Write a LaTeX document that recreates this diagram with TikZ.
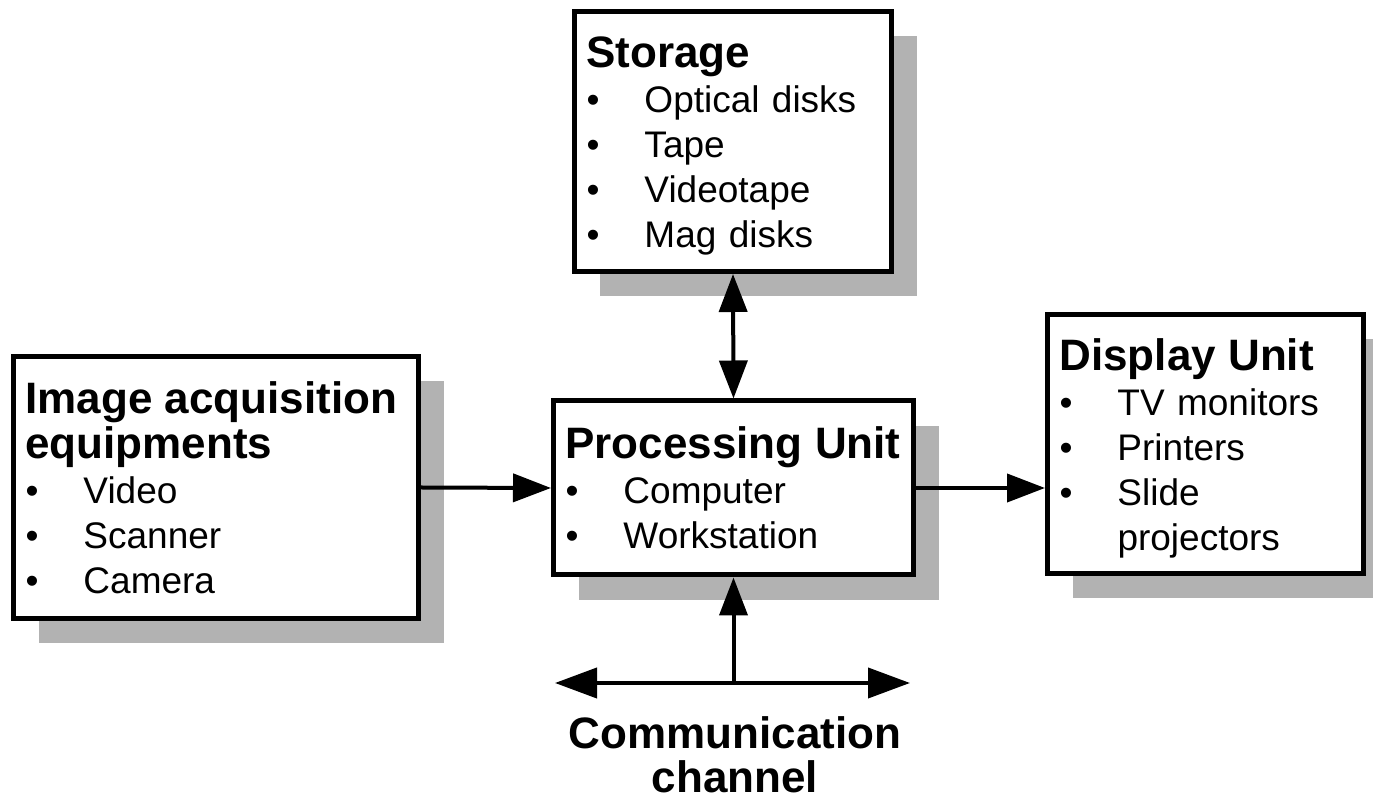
\documentclass[tikz,border=0pt]{standalone}
\usepackage{fontspec}
\setmainfont{Liberation Sans}
\usetikzlibrary{arrows.meta,shadows}

\newcommand{\bitem}[1]{\makebox[29pt][l]{\textbullet}#1}
\newcommand{\bhead}[1]{{\fontsize{22pt}{22.5pt}\selectfont\bfseries #1}}

\tikzset{
  unit/.style={draw, line width=2.5pt, fill=white, align=left,
    inner xsep=6pt, inner ysep=6pt,
    font=\fontsize{18.5pt}{22.5pt}\selectfont,
    drop shadow={shadow xshift=12.5pt, shadow yshift=-12.5pt,
      fill=black!30, opacity=1}},
  link/.style={line width=2pt},
  >={Triangle[length=19pt,width=14pt]}
}

\begin{document}
\begin{tikzpicture}[x=0.5pt,y=-0.5pt]
  \useasboundingbox (0,0) rectangle (1373,801);

  % units
  \node[unit, text width=146.5pt, minimum height=130pt] (store) at (733,141.5)
    {\bhead{\rule{0pt}{20pt}Storage}\\ \bitem{Optical disks}\\ \bitem{Tape}\\
     \bitem{Videotape}\\ \bitem{Mag disks}};
  \node[unit, text width=190.5pt, minimum height=131pt] (acq) at (216,487.5)
    {\bhead{Image acquisition\\equipments}\\ \bitem{Video}\\
     \bitem{Scanner}\\ \bitem{Camera}};
  \node[unit, text width=168pt, minimum height=87pt] (proc) at (733.5,488)
    {\bhead{\mbox{Processing Unit}}\\ \bitem{Computer}\\ \bitem{Workstation}};
  \node[unit, text width=146pt, minimum height=129.5pt] (disp) at (1205.5,444)
    {\bhead{\rule{0pt}{20pt}Display Unit}\\ \bitem{TV monitors}\\ \bitem{Printers}\\
     \bitem{Slide}\\ \hspace*{29pt}projectors};

  % communication bus
  \coordinate (busL) at (555,683);
  \coordinate (busR) at (910,683);
  \node[font=\fontsize{22pt}{22pt}\selectfont\bfseries, align=center,
    inner sep=0pt, anchor=north] (chan) at (735,716) {Communication\\channel};

  \begin{scope}[link]
    \draw[<->] (store.south) -- (proc.north);
    \draw[->] (acq.east) -- (proc.west);
    \draw[->] (proc.east) -- (proc.east -| disp.west);
    \draw[{Triangle[length=21pt,width=15pt]}-{Triangle[length=21pt,width=15pt]}]
      (busL) -- (busR);
    \draw[->] (busL -| proc.south) -- (proc.south);
  \end{scope}
\end{tikzpicture}
\end{document}
